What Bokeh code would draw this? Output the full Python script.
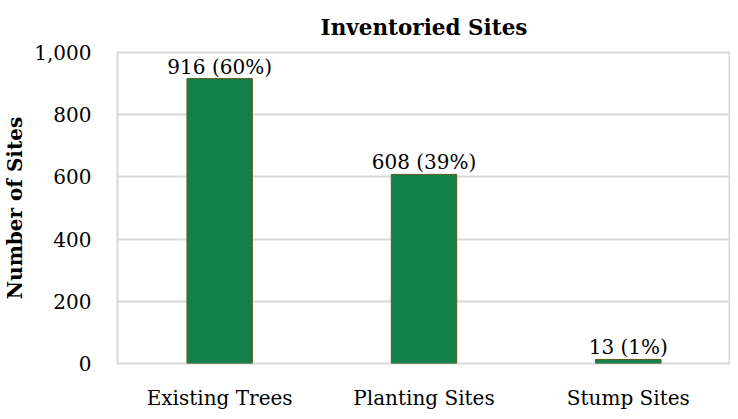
from bokeh.plotting import figure
from bokeh.models import ColumnDataSource, FixedTicker, NumeralTickFormatter, Range1d
from bokeh.core.properties import value
from bokeh.embed import file_html
from bokeh.resources import INLINE

categories = ["Existing Trees", "Planting Sites", "Stump Sites"]
counts = [916, 608, 13]
bar_labels = ["916 (60%)", "608 (39%)", "13 (1%)"]
y_ticks = [0, 200, 400, 600, 800, 1000]
chart_title = "Inventoried Sites"

FONT = "DejaVu Serif"

source = ColumnDataSource(data=dict(cat=categories, count=counts, label=bar_labels))

p = figure(
    x_range=categories,
    y_range=Range1d(0, 1000),
    frame_width=613, frame_height=311,
    output_backend="svg", toolbar_location=None,
    title=chart_title,
    min_border_left=110, min_border_right=0,
    min_border_top=52, min_border_bottom=47,
)

p.vbar(x="cat", top="count", width=0.32, source=source,
       fill_color="#138049", line_color="#5b5b1b", line_width=1)

p.text(x="cat", y="count", text="label", source=source,
       text_align="center", text_baseline="bottom", y_offset=0,
       text_font=value(FONT), text_font_size="20px", text_color="#000000")

p.title.align = "center"
p.title.offset = -3
p.title.text_font = FONT
p.title.text_font_size = "21.5px"
p.title.text_font_style = "bold"
p.title.text_color = "#000000"
p.title.standoff = 25

p.outline_line_color = "#d9d9d9"
p.outline_line_width = 2

p.xgrid.grid_line_color = None
p.ygrid.grid_line_color = "#d9d9d9"
p.ygrid.grid_line_width = 2

p.yaxis.ticker = FixedTicker(ticks=y_ticks)
p.yaxis.formatter = NumeralTickFormatter(format="0,0")
p.yaxis.axis_label = "Number of Sites"
p.yaxis.axis_label_text_font = FONT
p.yaxis.axis_label_text_font_size = "20px"
p.yaxis.axis_label_text_font_style = "bold"
p.yaxis.axis_label_text_color = "#000000"
p.yaxis.axis_label_standoff = 4

for ax in (p.xaxis[0], p.yaxis[0]):
    ax.axis_line_color = None
    ax.major_tick_line_color = None
    ax.minor_tick_line_color = None
    ax.major_label_text_font = FONT
    ax.major_label_text_font_size = "20px"
    ax.major_label_text_color = "#000000"

p.yaxis.major_label_standoff = 20
p.xaxis.major_label_standoff = 16

p.x_range.range_padding = 0.0

open("out.html", "w").write(file_html(p, INLINE))
